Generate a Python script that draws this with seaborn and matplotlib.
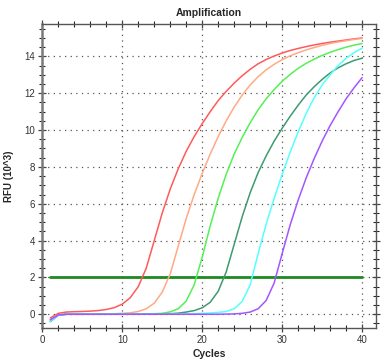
import numpy as np
import pandas as pd
import matplotlib
matplotlib.use("Agg")
import matplotlib.pyplot as plt
import seaborn as sns
from matplotlib.ticker import MultipleLocator

cycles = list(range(1, 41))

red = [-0.2, 0.05, 0.12, 0.14, 0.15, 0.17, 0.2, 0.26, 0.36, 0.55,
       0.9, 1.5, 2.5, 4.0, 5.5, 6.8, 7.9, 8.85, 9.65, 10.35,
       11.0, 11.6, 12.1, 12.55, 12.95, 13.3, 13.6, 13.83, 14.02, 14.18,
       14.32, 14.43, 14.53, 14.62, 14.7, 14.77, 14.83, 14.89, 14.95, 15.0]
salmon = [-0.3, -0.03, 0.0, 0.0, 0.0, 0.01, 0.01, 0.02, 0.03, 0.05,
          0.08, 0.15, 0.3, 0.6, 1.2, 2.2, 3.7, 5.2, 6.5, 7.65,
          8.7, 9.65, 10.5, 11.25, 11.9, 12.45, 12.9, 13.27, 13.57, 13.82,
          14.03, 14.2, 14.35, 14.48, 14.6, 14.7, 14.78, 14.85, 14.92, 14.97]
green = [-0.35, -0.05, 0.0, 0.0, 0.0, 0.0, 0.0, 0.0, 0.01, 0.01,
         0.01, 0.01, 0.02, 0.03, 0.05, 0.13, 0.3, 0.72, 1.6, 3.1,
         4.8, 6.3, 7.6, 8.7, 9.6, 10.4, 11.1, 11.7, 12.2, 12.65,
         13.02, 13.35, 13.62, 13.85, 14.05, 14.22, 14.37, 14.5, 14.61, 14.7]
seagreen = [-0.4, -0.05, 0.0, 0.0, 0.0, 0.0, 0.0, 0.0, 0.0, 0.0,
            0.0, 0.0, 0.01, 0.01, 0.02, 0.03, 0.06, 0.12, 0.2, 0.35,
            0.65, 1.25, 2.3, 3.8, 5.3, 6.6, 7.7, 8.6, 9.4, 10.1,
            10.75, 11.35, 11.9, 12.35, 12.75, 13.1, 13.38, 13.6, 13.78, 13.9]
cyan = [-0.38, -0.05, 0.0, 0.0, 0.0, 0.0, 0.0, 0.0, 0.0, 0.0,
        0.0, 0.0, 0.0, 0.0, 0.0, 0.01, 0.01, 0.02, 0.03, 0.05,
        0.07, 0.1, 0.15, 0.3, 0.7, 1.6, 3.3, 4.9, 6.3, 7.6,
        8.8, 9.9, 10.9, 11.75, 12.45, 13.0, 13.5, 13.9, 14.2, 14.45]
purple = [-0.3, -0.04, 0.0, 0.0, 0.0, 0.0, 0.0, 0.0, 0.0, 0.0,
          0.0, 0.0, 0.0, 0.0, 0.0, 0.0, 0.0, 0.0, 0.0, 0.0,
          0.0, 0.0, 0.01, 0.02, 0.05, 0.12, 0.3, 0.75, 1.7, 3.3,
          4.85, 6.2, 7.4, 8.45, 9.4, 10.25, 11.0, 11.7, 12.3, 12.85]

series_names = ["A1", "A2", "A3", "A4", "A5", "A6"]
series_values = [red, salmon, green, seagreen, cyan, purple]
colors = ["#ff5a5a", "#ffaa85", "#55f055", "#3f9a72", "#55ffff", "#a455ff"]

threshold_value = 2.0
threshold_cycles = [1, 40]

x_ticks = [0, 10, 20, 30, 40]
y_ticks = [0, 2, 4, 6, 8, 10, 12, 14]

rows = []
for name, vals in zip(series_names, series_values):
    for c, v in zip(cycles, vals):
        rows.append({"Cycle": c, "RFU": v, "Well": name})
df = pd.DataFrame(rows)
thr = pd.DataFrame({"Cycle": threshold_cycles, "RFU": [threshold_value] * 2})

sns.set_style("white")
plt.rcParams["font.family"] = ["Liberation Sans", "DejaVu Sans"]

fig = plt.figure(figsize=(3.9, 3.64), dpi=100)
ax = fig.add_axes([0.1085, 0.0997, 0.8549, 0.834])

sns.lineplot(data=thr, x="Cycle", y="RFU", color="#1f8a1f", linewidth=2.0,
             ax=ax, legend=False, zorder=3)
sns.lineplot(data=df, x="Cycle", y="RFU", hue="Well", palette=colors,
             linewidth=1.1, ax=ax, legend=False, zorder=4)

ax.set_xlim(0, 41.7)
ax.set_ylim(-0.73, 15.75)
ax.set_xticks(x_ticks)
ax.set_yticks(y_ticks)
ax.xaxis.set_minor_locator(MultipleLocator(2))
ax.yaxis.set_minor_locator(MultipleLocator(0.5))

ax.grid(True, which="major", color="#555555", linestyle=(0, (1, 3.5)), linewidth=0.9)

ax.tick_params(axis="both", which="major", labelsize=7, labelcolor="#333333",
               color="#444444", pad=2)
ax.tick_params(axis="y", which="major", direction="inout", length=6, width=0.9, left=True, right=True)
ax.tick_params(axis="y", which="minor", direction="inout", length=4, width=0.8, left=True, right=True)
ax.tick_params(axis="x", which="major", direction="inout", length=6, width=0.9, bottom=True, top=True)
ax.tick_params(axis="x", which="minor", direction="inout", length=4, width=0.8, bottom=True, top=True)

for side in ["left"]:
    ax.spines[side].set_color("#7a7a7a")
    ax.spines[side].set_linewidth(1.8)
for side in ["bottom", "top", "right"]:
    ax.spines[side].set_color("#555555")
    ax.spines[side].set_linewidth(1.0)

ax.set_title("Amplification", fontsize=7.5, fontweight="bold", pad=6)
ax.set_xlabel("Cycles", fontsize=7.5, fontweight="bold", labelpad=3)
ax.set_ylabel("RFU (10^3)", fontsize=7, fontweight="bold", labelpad=8)

fig.savefig("out.png", dpi=100)
